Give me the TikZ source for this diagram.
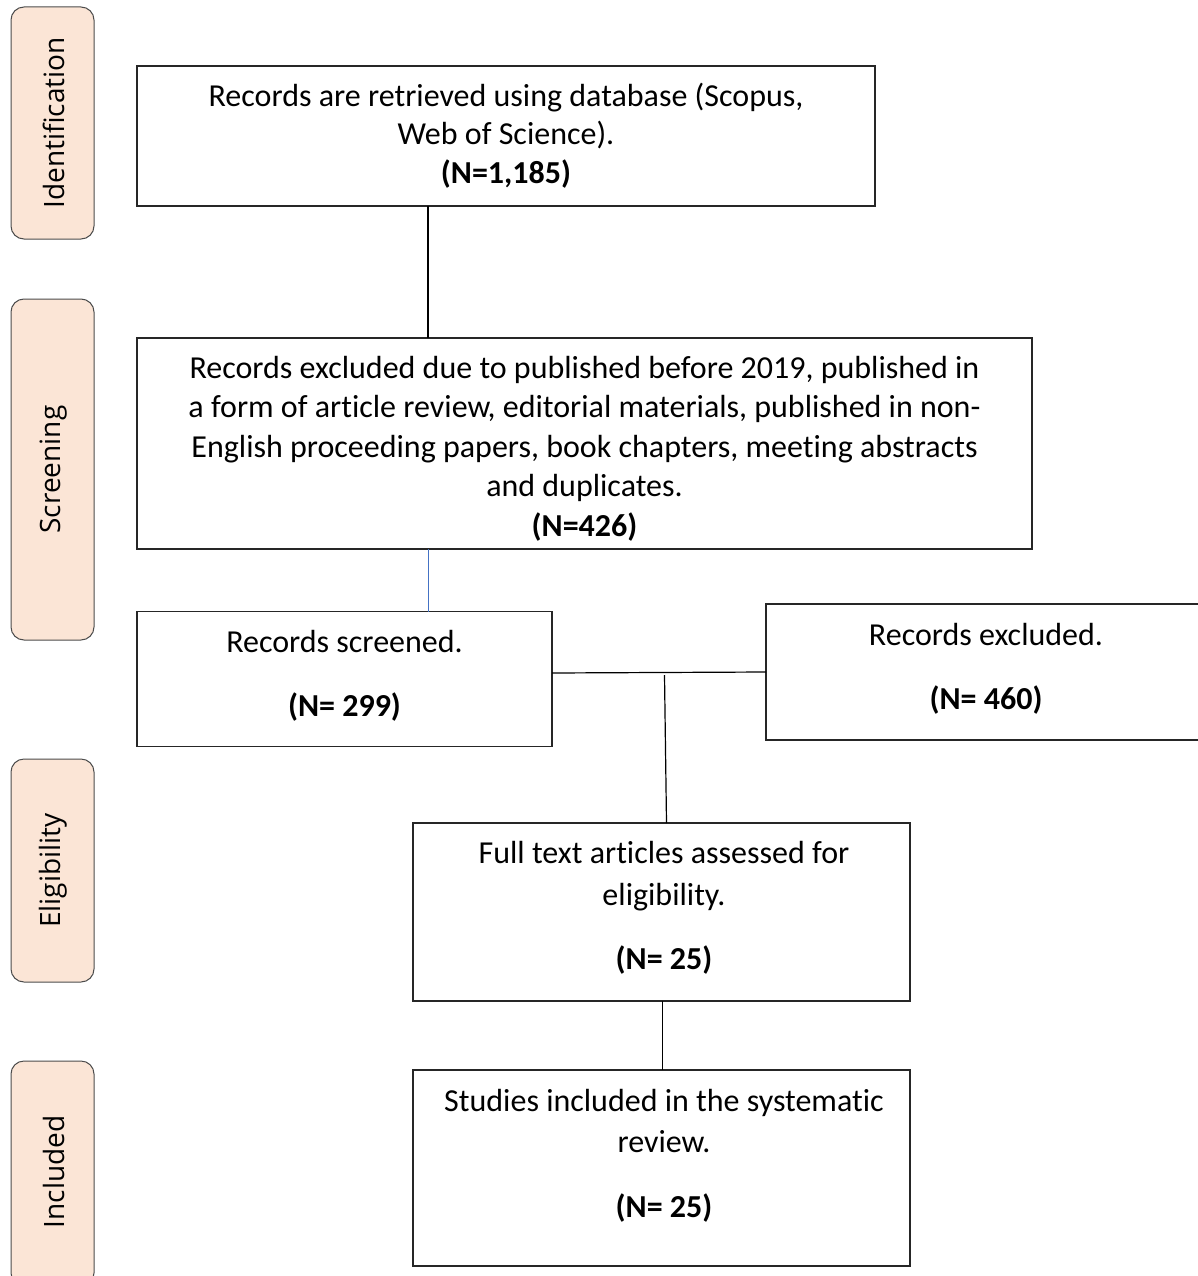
\documentclass[tikz,border=0pt]{standalone}
\usepackage{fontspec}
\setmainfont{Carlito}[Ligatures=NoCommon]
\newfontfamily\labelfont{Open Sans}
\usetikzlibrary{calc}
\definecolor{peach}{HTML}{FBE5D6}
\definecolor{linkblue}{HTML}{4472C4}
\begin{document}
\begin{tikzpicture}[x=1pt,y=-1pt,
  box/.style={draw=black!85, line width=1.2pt, inner sep=0pt, outer sep=0pt, anchor=north west},
  phase/.style={draw=black!70, fill=peach, line width=1pt, rounded corners=13pt, inner sep=0pt, outer sep=0pt, anchor=north west},
  phasetext/.style={font=\labelfont\fontsize{28}{34}\selectfont, rotate=90, inner sep=0pt},
  txt/.style={font=\fontsize{32}{38}\selectfont, anchor=base, inner sep=0pt},
  btxt/.style={anchor=base, inner sep=0pt, font=\fontsize{32}{38}\selectfont\bfseries},
  conn/.style={line width=1.2pt, draw=black}]
\useasboundingbox (0,0) rectangle (1198,1276);
\clip (0,0) rectangle (1198,1276);
\fill[white] (0,0) rectangle (1198,1276);

% phase labels
\node[phase, minimum width=83pt, minimum height=232pt] (p1) at (11,7) {};
\node[phase, minimum width=83pt, minimum height=341pt] (p2) at (11,299) {};
\node[phase, minimum width=83pt, minimum height=223pt] (p3) at (11,759) {};
\node[phase, minimum width=83pt, minimum height=225pt] (p4) at (11,1061) {};
\node[phasetext] (l1) at (53.5,123) {Identification};
\node[phasetext] (l2) at (53.5,469.5) {Screening};
\node[phasetext] (l3) at (53.5,870.5) {Eligibility};
\node[phasetext] (l4) at (53.5,1172) {Included};

% boxes
\node[box, minimum width=738pt, minimum height=140pt] (b1) at (137,66) {};
\node[box, minimum width=895pt, minimum height=211pt] (b2) at (137,338) {};
\node[box, minimum width=415pt, minimum height=135pt] (b3) at (137,611.5) {};
\node[box, minimum width=460pt, minimum height=136pt] (b4) at (766,604) {};
\node[box, minimum width=497pt, minimum height=178pt] (b5) at (413,823) {};
\node[box, minimum width=497pt, minimum height=196pt] (b6) at (413,1070) {};

% texts
\node[txt] (t1a) at (506,107) {Records are retrieved using database (Scopus,};
\node[txt] (t1b) at (506,145) {Web of Science).};
\node[btxt] (t1c) at (506,183) {(N=1,185)};

\node[txt] (t2a) at (584.5,378) {Records excluded due to published before 2019, published in};
\node[txt] (t2b) at (584.5,417) {a form of article review, editorial materials, published in non-};
\node[txt] (t2c) at (584.5,457) {English proceeding papers, book chapters, meeting abstracts};
\node[txt] (t2d) at (584.5,496) {and duplicates.};
\node[btxt] (t2e) at (584.5,536) {(N=426)};

\node[txt] (t3a) at (344.5,652) {Records screened.};
\node[btxt] (t3b) at (344.5,716) {(N= 299)};

\node[txt] (t4a) at (986,645) {Records excluded.};
\node[btxt] (t4b) at (986,709) {(N= 460)};

\node[txt] (t5a) at (664,863) {Full text articles assessed for};
\node[txt] (t5b) at (664,905) {eligibility.};
\node[btxt] (t5c) at (664,969) {(N= 25)};

\node[txt] (t6a) at (664,1111) {Studies included in the systematic};
\node[txt] (t6b) at (664,1152) {review.};
\node[btxt] (t6c) at (664,1217) {(N= 25)};

% connectors
\draw[conn] ([xshift=291pt]b1.south west) -- ([xshift=291pt]b2.north west);
\draw[line width=1pt, draw=linkblue] ([xshift=291pt]b2.south west) -- ([xshift=291pt]b3.north west);
\draw[conn] ([yshift=6pt]b3.east) -- (b4.west);
\coordinate (j) at ($(b5.north |- b4.west)+(3,3)$);
\draw[conn] (j) -- ([xshift=5pt]b5.north);
\draw[conn] ([xshift=1pt]b5.south) -- ([xshift=1pt]b6.north);
\end{tikzpicture}
\end{document}
